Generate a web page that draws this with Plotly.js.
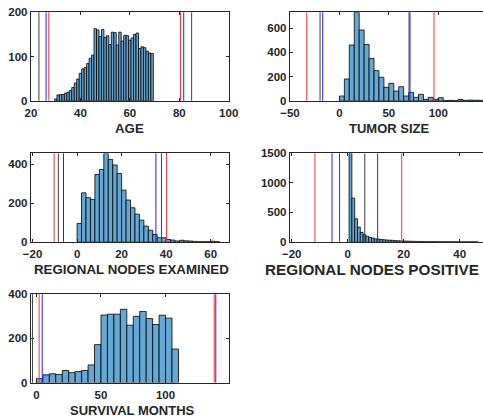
<!DOCTYPE html>
<html>
<head>
<meta charset="utf-8">
<script src="https://cdn.plot.ly/plotly-3.0.1.min.js"></script>
<style>
html,body{margin:0;padding:0;overflow:hidden;background:#fff;}
#chart{width:490px;height:417px;}
</style>
</head>
<body>
<div id="chart"></div>
<script>
// ---- data ----
const titles = ["AGE", "TUMOR SIZE", "REGIONAL NODES EXAMINED", "REGIONAL NODES POSITIVE", "SURVIVAL MONTHS"];

// AGE: bins of width 1 centred on 30..69
const ageBinStart = 29.5, ageBinWidth = 1;
const ageCounts = [4, 13, 14, 14, 17, 19, 23, 30, 40, 49, 62, 72, 75, 84, 96, 103,
  163, 160, 145, 161, 143, 147, 127, 155, 154, 126, 155, 135, 148, 147, 137, 142,
  150, 153, 118, 122, 120, 112, 108, 107];
const ageBlack = [23.2, 85.0], ageBlue = [26.1, 81.8], ageRed = [27.2, 80.5];

// TUMOR SIZE: bins of width 5 from 0
const tumorBinStart = 0, tumorBinWidth = 5;
const tumorCounts = [39, 180, 462, 733, 586, 466, 351, 249, 194, 111, 144, 80, 116, 39,
  69, 28, 53, 11, 28, 11, 25, 2, 3, 1, 10, 3, 5, 4, 3];
const tumorBlack = [-19.6, 70.4], tumorBlue = [-16.9, 71.4], tumorRed = [-33.1, 95.7];

// REGIONAL NODES EXAMINED: bins of width 2 from 0
const examBinStart = 0, examBinWidth = 2;
const examCounts = [95, 253, 228, 219, 348, 374, 457, 426, 397, 353, 267, 216, 176, 143,
  112, 81, 60, 38, 21, 21, 12, 9, 4, 8, 5, 4, 2, 1, 1, 1, 3, 1];
const examBlack = [-8.4, 37.9], examBlue = [-6.1, 35.4], examRed = [-10.3, 40.2];

// REGIONAL NODES POSITIVE: bins of width 1 centred on 1..46
const posBinStart = 0.5, posBinWidth = 1;
const posCounts = [1500, 740, 390, 250, 160, 120, 95, 75, 65, 50, 45, 40, 35, 30, 28, 25,
  20, 18, 15, 12, 12, 10, 8, 7, 6, 5, 5, 4, 3, 3, 3, 2, 2, 2, 2, 1, 1, 1, 1, 0, 1, 0, 0, 0, 0, 1];
const posBlack = [-2.9, 6.1], posBlue = [-5.6, 10.7], posRed = [-11.7, 19.3];

// SURVIVAL MONTHS: bins of width 5 from 0
const survBinStart = 0, survBinWidth = 5;
const survCounts = [18, 35, 40, 37, 55, 45, 50, 55, 80, 172, 306, 310, 310, 332, 260, 300,
  322, 290, 263, 305, 292, 152];
const survBlack = [-3.0], survBlue = [4.5, 138.9], survRed = [2.1, 137.7];

// tick values
const ageXTicks = [20, 40, 60, 80, 100], ageYTicks = [0, 100, 200];
const tumorXTicks = [-50, 0, 50, 100, 150], tumorYTicks = [0, 200, 400, 600];
const examXTicks = [-20, 0, 20, 40, 60], examYTicks = [0, 200, 400];
const posXTicks = [-20, 0, 20, 40], posYTicks = [0, 500, 1000, 1500];
const survXTicks = [0, 50, 100, 150], survYTicks = [0, 200, 400];

// ---- layout geometry (pixels) ----
const W = 490, H = 417;
const panels = [
  {counts: ageCounts, start: ageBinStart, width: ageBinWidth, black: ageBlack, blue: ageBlue, red: ageRed,
   xr: [20, 100], yr: [0, 200], xt: ageXTicks, yt: ageYTicks, box: [31, 228.7, 12.3, 100.7],
   tx: 129.8, ts: 13.3},
  {counts: tumorCounts, start: tumorBinStart, width: tumorBinWidth, black: tumorBlack, blue: tumorBlue, red: tumorRed,
   xr: [-50, 150], yr: [0, 733], xt: tumorXTicks, yt: tumorYTicks, box: [290, 487.7, 12.3, 100.7],
   tx: 388.5, ts: 13.0},
  {counts: examCounts, start: examBinStart, width: examBinWidth, black: examBlack, blue: examBlue, red: examRed,
   xr: [-20.7, 68.1], yr: [0, 457], xt: examXTicks, yt: examYTicks, box: [31, 228.7, 153.4, 241.8],
   tx: 131, ts: 13.3},
  {counts: posCounts, start: posBinStart, width: posBinWidth, black: posBlack, blue: posBlue, red: posRed,
   xr: [-20.6, 50], yr: [0, 1500], xt: posXTicks, yt: posYTicks, box: [290, 487.7, 153.4, 241.8],
   tx: 371.5, ts: 15.3},
  {counts: survCounts, start: survBinStart, width: survBinWidth, black: survBlack, blue: survBlue, red: survRed,
   xr: [-4.2, 148.9], yr: [0, 400], xt: survXTicks, yt: survYTicks, box: [31, 228.7, 294.3, 382.6],
   tx: 132, ts: 13.0}
];

const axisColor = '#262626';
const fontFamily = 'Liberation Sans, Arial, sans-serif';
const data = [];
const shapes = [];
const annotations = [];
const layout = {
  width: W, height: H,
  margin: {l: 0, r: 0, t: 0, b: 0},
  paper_bgcolor: '#ffffff', plot_bgcolor: '#ffffff',
  showlegend: false, bargap: 0,
  font: {family: fontFamily, color: axisColor},
  shapes: shapes, annotations: annotations
};

panels.forEach((p, i) => {
  const n = i + 1;
  const xa = 'x' + (n === 1 ? '' : n), ya = 'y' + (n === 1 ? '' : n);
  const xs = p.counts.map((c, k) => p.start + p.width * (k + 0.5));
  data.push({
    type: 'bar', x: xs, y: p.counts, width: p.width,
    xaxis: xa, yaxis: ya,
    marker: {color: 'rgb(100,168,214)', line: {color: '#000000', width: 0.8}},
    hoverinfo: 'skip'
  });
  [[p.black, '#404040'], [p.red, '#ff3030'], [p.blue, '#2020ff']].forEach(([vals, col]) => {
    vals.forEach(v => {
      shapes.push({type: 'line', xref: xa, yref: ya + ' domain', x0: v, x1: v, y0: 0, y1: 1,
        line: {color: col, width: 1}, layer: 'above'});
    });
  });
  const [l, r, t, b] = p.box;
  annotations.push({
    text: titles[i], xref: 'paper', yref: 'paper',
    x: p.tx / W, y: 1 - (b + 27.5) / H, xanchor: 'center', yanchor: 'middle',
    showarrow: false,
    font: {size: p.ts, weight: 'bold', family: fontFamily, color: axisColor}
  });
  layout['xaxis' + (n === 1 ? '' : n)] = {
    domain: [l / W, r / W], anchor: ya, range: p.xr,
    tickmode: 'array', tickvals: p.xt,
    ticks: 'inside', ticklen: 3, tickwidth: 1, tickcolor: axisColor,
    showline: true, linecolor: axisColor, linewidth: 1.2, mirror: 'allticks',
    showgrid: false, zeroline: false, ticklabelstandoff: 1,
    tickfont: {size: 11.5, weight: 'bold', family: fontFamily, color: axisColor}
  };
  layout['yaxis' + (n === 1 ? '' : n)] = {
    domain: [1 - b / H, 1 - t / H], anchor: xa, range: p.yr,
    tickmode: 'array', tickvals: p.yt,
    ticks: 'inside', ticklen: 3, tickwidth: 1, tickcolor: axisColor,
    showline: true, linecolor: axisColor, linewidth: 1.2, mirror: 'allticks',
    showgrid: false, zeroline: false,
    tickfont: {size: 11.5, weight: 'bold', family: fontFamily, color: axisColor}
  };
});

Plotly.newPlot('chart', data, layout, {staticPlot: true, displayModeBar: false});
</script>
</body>
</html>
